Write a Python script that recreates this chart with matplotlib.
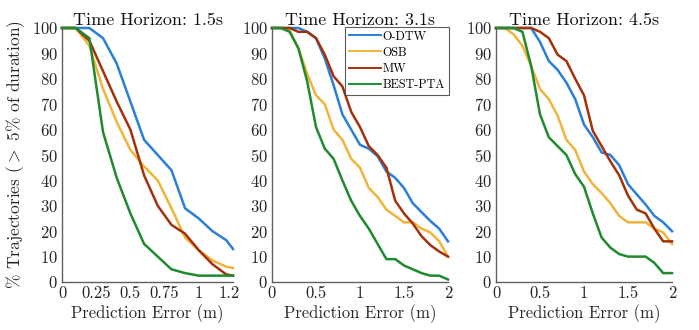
import matplotlib
matplotlib.use("Agg")
import matplotlib.pyplot as plt
from matplotlib.transforms import Bbox, TransformedBbox

plt.rcParams['font.family'] = ['cmr10', 'DejaVu Serif']
plt.rcParams['mathtext.fontset'] = 'cm'
plt.rcParams['axes.unicode_minus'] = False
plt.rcParams['axes.formatter.use_mathtext'] = True

methods = ["O-DTW", "OSB", "MW", "BEST-PTA"]
colors = ["#2a7fd9", "#f0b43a", "#a3320c", "#1f8a2e"]
titles = ["Time Horizon: 1.5s", "Time Horizon: 3.1s", "Time Horizon: 4.5s"]

x1 = [0, 0.1, 0.2, 0.3, 0.4, 0.5, 0.6, 0.7, 0.8, 0.9, 1.0, 1.1, 1.2, 1.25]
p1_odtw = [100, 100, 100, 96, 86, 71, 56, 50, 44, 29, 25, 20, 16.5, 13]
p1_osb = [100, 100, 93, 76, 63, 52, 45.5, 40, 29, 17.5, 12.5, 8.5, 6, 5.5]
p1_mw = [100, 100, 95, 83, 71, 60, 42, 30, 22.5, 19, 12.5, 7, 3, 2.5]
p1_pta = [100, 100, 96, 59, 41, 27, 15, 10, 5, 3.5, 2.5, 2.5, 2.5, 2.5]

x2 = [0, 0.1, 0.2, 0.3, 0.4, 0.5, 0.6, 0.7, 0.8, 0.9, 1.0,
      1.1, 1.2, 1.3, 1.4, 1.5, 1.6, 1.7, 1.8, 1.9, 2.0]
p2_odtw = [100, 100, 100, 100, 98.5, 96, 88, 77.5, 66, 60, 54,
           52.5, 49.5, 43.5, 41, 37, 31, 27.5, 24, 21, 16]
p2_osb = [100, 100, 99, 92, 82, 73.5, 70, 60, 56, 48.5, 45,
          37, 33.5, 28.5, 26, 23.5, 23.5, 21, 19.5, 16, 10]
p2_mw = [100, 100, 100, 98.5, 98.5, 96, 89.5, 81, 77, 67, 61,
         53.5, 50, 45, 32, 27, 23, 18, 14.5, 12, 10]
p2_pta = [100, 100, 98.5, 92, 79, 61, 52.5, 48.5, 40, 32, 26,
          21, 15, 9, 9, 6.5, 5, 3.5, 2.5, 2.5, 1]

x3 = x2
p3_odtw = [100, 100, 100, 100, 100, 94.5, 87, 83.5, 78.5, 72, 62,
           57, 51, 50, 46, 38.5, 34.5, 30.5, 26, 23.5, 20]
p3_osb = [100, 100, 97.5, 93, 85, 76, 72, 65.5, 56, 52, 43.5,
          38.5, 35, 31, 26, 23.5, 23.5, 23.5, 21, 19.5, 15]
p3_mw = [100, 100, 100, 100, 100, 98.5, 96, 89.5, 87, 80, 73.5,
         59.5, 53.5, 47.5, 42, 34, 28.5, 27, 21, 16, 16]
p3_pta = [100, 100, 100, 98.5, 85, 66, 57, 53.5, 50, 42.5, 37.5,
          27, 17.5, 13.5, 11, 10, 10, 10, 7.5, 3.5, 3.5]

panels = [
    (x1, [p1_odtw, p1_osb, p1_mw, p1_pta], 1.25, [0, 0.25, 0.5, 0.75, 1, 1.25], ["0", "0.25", "0.5", "0.75", "1", "1.25"]),
    (x2, [p2_odtw, p2_osb, p2_mw, p2_pta], 2, [0, 0.5, 1, 1.5, 2], ["0", "0.5", "1", "1.5", "2"]),
    (x3, [p3_odtw, p3_osb, p3_mw, p3_pta], 2, [0, 0.5, 1, 1.5, 2], ["0", "0.5", "1", "1.5", "2"]),
]
yticks = list(range(0, 101, 10))

W, H = 699, 330
fig = plt.figure(figsize=(W / 100, H / 100), dpi=100)
lefts = [62, 272, 496]
rights = [233, 448, 672]
top, bottom = 28, 282

axes = []
for i, (xs, series, xmax, xt, xtl) in enumerate(panels):
    ax = fig.add_axes([lefts[i] / W, 1 - bottom / H, (rights[i] - lefts[i]) / W, (bottom - top) / H])
    axes.append(ax)
    for name, ys, c in zip(methods, series, colors):
        ax.plot(xs, ys, color=c, lw=1.8, label=name, clip_on=False)
    ax.set_xlim(0, xmax)
    ax.set_ylim(0, 100)
    ax.set_xticks(xt)
    ax.set_xticklabels(xtl)
    ax.set_yticks(yticks)
    ax.tick_params(length=0, labelsize=12, colors='#262626', pad=3)
    for s in ['top', 'right']:
        ax.spines[s].set_visible(False)
    for s in ['left', 'bottom']:
        ax.spines[s].set_color('#606060')
        ax.spines[s].set_linewidth(1.0)
    ax.set_title(titles[i], fontsize=13, pad=2, color='#111111')
    ax.set_xlabel("Prediction Error (m)", fontsize=12, color='#262626', labelpad=2)

axes[0].set_ylabel(r"% Trajectories ($>$ 5% of duration)", fontsize=12.5, color='#262626', labelpad=3)

# clip panel-1 last tick label like the reference
clipbox = TransformedBbox(Bbox([[0, 0], [240 / W, 1]]), fig.transFigure)
for lab in axes[0].get_xticklabels():
    lab.set_clip_on(True)
    lab.set_clip_box(clipbox)

leg = axes[1].legend(loc='upper right', bbox_to_anchor=(1.003, 1.005), fontsize=8.8,
                     frameon=True, fancybox=False, borderpad=0.3, labelspacing=0.33,
                     handlelength=2.6, handletextpad=0.15, borderaxespad=0.0)
leg.get_frame().set_edgecolor('#333333')
leg.get_frame().set_linewidth(0.8)
for h in leg.get_lines():
    h.set_linewidth(1.4)

fig.savefig("out.png", dpi=100)
